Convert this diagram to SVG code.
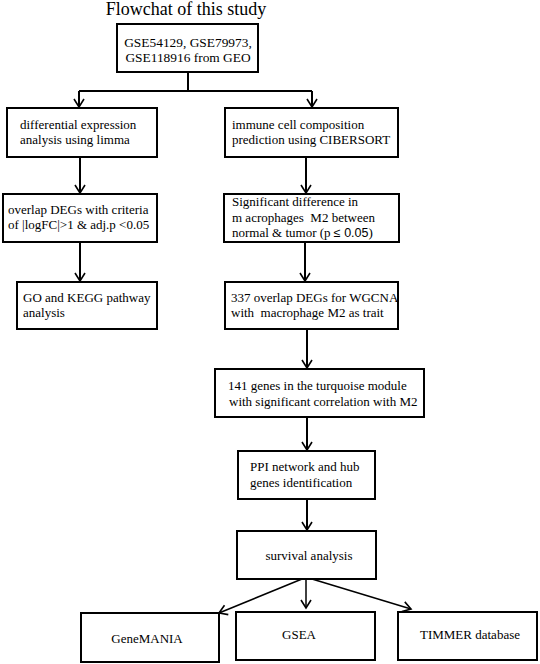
<svg xmlns="http://www.w3.org/2000/svg" width="540" height="664" viewBox="0 0 540 664">
<defs>
<style>
.box{fill:#fff;stroke:#000;stroke-width:2}
.t{font-family:"Liberation Serif","Times New Roman",serif;font-size:13px;fill:#000}
.c{text-anchor:middle}
.ln{fill:none;stroke:#000;stroke-width:2}
.thin{fill:none;stroke:#000;stroke-width:1.5}
</style>
<marker id="ah" viewBox="0 0 10 12" refX="8" refY="6" markerWidth="10" markerHeight="12" markerUnits="userSpaceOnUse" orient="auto" overflow="visible">
<path d="M0,1 L8,6 L0,11" fill="none" stroke="#000" stroke-width="1.6"/>
</marker>
</defs>
<rect width="540" height="664" fill="#fff"/>
<text x="186" y="15" class="t c" style="font-size:18px">Flowchat of this study</text>
<g id="connectors">
<path class="ln" d="M188,72 V91 M79,91 H312"/>
<path class="ln" d="M79,91 V107" marker-end="url(#ah)"/>
<path class="ln" d="M312,91 V107" marker-end="url(#ah)"/>
<path class="ln" d="M80,157 V193" marker-end="url(#ah)"/>
<path class="ln" d="M306,157 V193" marker-end="url(#ah)"/>
<path class="ln" d="M80,242 V281" marker-end="url(#ah)"/>
<path class="ln" d="M305,242 V281" marker-end="url(#ah)"/>
<path class="ln" d="M307,329 V368" marker-end="url(#ah)"/>
<path class="ln" d="M307,417 V450" marker-end="url(#ah)"/>
<path class="ln" d="M307,499 V530" marker-end="url(#ah)"/>
<path class="thin" d="M302,579 L219,613" marker-end="url(#ah)"/>
<path class="thin" d="M306,579 V608" marker-end="url(#ah)"/>
<path class="thin" d="M312,579 L411,609" marker-end="url(#ah)"/>
</g>
<g id="n-geo">
<rect class="box" x="117" y="24" width="141" height="48"/>
<text class="t c" x="188" y="47" style="font-size:13.4px">GSE54129, GSE79973,</text>
<text class="t c" x="188" y="62" style="font-size:13.4px">GSE118916 from GEO</text>
</g>
<g id="n-limma">
<rect class="box" x="7" y="108" width="150" height="49"/>
<text class="t" x="20" y="129">differential expression</text>
<text class="t" x="20" y="144">analysis using limma</text>
</g>
<g id="n-cibersort">
<rect class="box" x="225" y="108" width="173" height="49"/>
<text class="t" x="232" y="129">immune cell composition</text>
<text class="t" x="232" y="144">prediction using CIBERSORT</text>
</g>
<g id="n-overlap">
<rect class="box" x="3" y="194" width="154" height="48"/>
<text class="t" x="8" y="214">overlap DEGs with criteria</text>
<text class="t" x="8" y="229">of |logFC|&gt;1 &amp; adj.p &lt;0.05</text>
</g>
<g id="n-m2diff">
<rect class="box" x="224" y="194" width="175" height="48"/>
<text class="t" x="232" y="206">Significant difference in</text>
<text class="t" x="232" y="222" xml:space="preserve">m acrophages  M2 between</text>
<text class="t" x="232" y="237">normal &amp; tumor (p <tspan style="font-family:'Liberation Sans',Arial,sans-serif;font-size:12.5px">≤ 0.05</tspan>)</text>
</g>
<g id="n-gokegg">
<rect class="box" x="17" y="282" width="140" height="47"/>
<text class="t" x="23" y="302">GO and KEGG pathway</text>
<text class="t" x="23" y="317">analysis</text>
</g>
<g id="n-wgcna">
<rect class="box" x="225" y="282" width="173" height="47"/>
<text class="t" x="231" y="302">337 overlap DEGs for WGCNA</text>
<text class="t" x="231" y="317" xml:space="preserve">with  macrophage M2 as trait</text>
</g>
<g id="n-turquoise">
<rect class="box" x="215" y="369" width="209" height="48"/>
<text class="t" x="228" y="390">141 genes in the turquoise module</text>
<text class="t" x="229" y="406">with significant correlation with M2</text>
</g>
<g id="n-ppi">
<rect class="box" x="238" y="451" width="137" height="48"/>
<text class="t" x="250" y="471">PPI network and hub</text>
<text class="t" x="250" y="487">genes identification</text>
</g>
<g id="n-survival">
<rect class="box" x="237" y="531" width="139" height="48"/>
<text class="t c" x="309" y="560">survival analysis</text>
</g>
<g id="n-genemania">
<rect class="box" x="81" y="613" width="138" height="49"/>
<text class="t c" x="147" y="643">GeneMANIA</text>
</g>
<g id="n-gsea">
<rect class="box" x="236" y="612" width="139" height="48"/>
<text class="t c" x="299" y="639">GSEA</text>
</g>
<g id="n-timmer">
<rect class="box" x="398" y="612" width="139" height="48"/>
<text class="t c" x="470" y="639">TIMMER database</text>
</g>
</svg>
